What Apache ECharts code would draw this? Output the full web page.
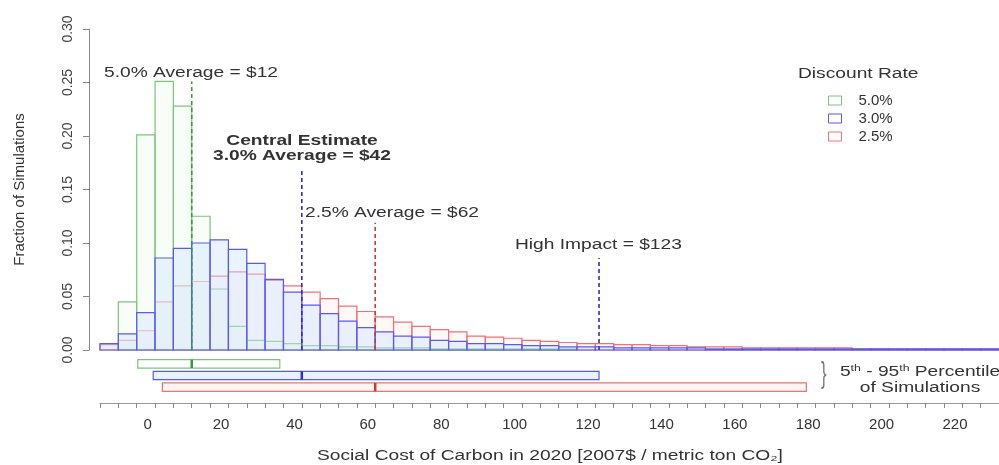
<!DOCTYPE html>
<html>
<head>
<meta charset="utf-8">
<script src="https://cdn.jsdelivr.net/npm/echarts@6/dist/echarts.min.js"></script>
<style>html,body{margin:0;padding:0;background:#fff}#c{width:999px;height:465px}</style>
</head>
<body>
<div id="c"></div>
<script>
// ---------- data ----------
const binStarts = [-13,-8,-3,2,7,12,17,22,27,32,37,42,47,52,57,62,67,72,77,82,87,92,97,102,107,112,117,122,127,132,137,142,147,152,157,162,167,172,177,182,187,192,197,202,207,212,217,222,227];
const binWidth = 5;
const share50 = [0.000,0.045,0.201,0.251,0.228,0.125,0.057,0.022,0.009,0.008,0.006,0.004,0.004,0.003,0.003,0.002,0.002,0.002,0.001,0.001,0.001,0.001,0.001,0.001,0.001,0.001,
  0,0,0,0,0,0,0,0,0,0,0,0,0,0,0,0,0,0,0,0,0,0,0];
const share30 = [0.006,0.015,0.035,0.086,0.095,0.100,0.103,0.094,0.081,0.066,0.054,0.042,0.034,0.027,0.021,0.017,0.013,0.012,0.009,0.008,0.006,0.006,0.005,0.004,0.004,0.003,0.003,0.003,0.002,0.002,0.002,0.002,0.002,0.001,
  0.001,0.001,0.001,0.001,0.001,0.001,0.001,0.001,0.001,0.001,0.001,0.001,0.001,0.001,0.001];
const share25 = [0.005,0.009,0.018,0.045,0.060,0.064,0.069,0.073,0.071,0.065,0.060,0.054,0.048,0.041,0.036,0.031,0.026,0.022,0.019,0.017,0.013,0.012,0.011,0.009,0.008,0.007,0.006,0.006,0.005,0.005,0.004,0.004,0.003,0.003,0.003,0.002,0.002,0.002,0.002,0.002,0.002,
  0.001,0.001,0.001,0.001,0.001,0.001,0.001,0.001];
const rateNames = ['5.0%','3.0%','2.5%'];
const averages = [12, 42, 62];
const averageLineTops = [0.251, 0.170, 0.119];
const highImpact = 123;
const highImpactTop = 0.086;
const pctLow = [-2.7, 1.5, 4.0];
const pctHigh = [36, 123, 179.5];
const xMin = -13, xMax = 232;
const xLabelValues = [0,20,40,60,80,100,120,140,160,180,200,220];
const xTickValues = [-13,-8,-3,2,7,12,17,22,27,32,37,42,47,52,57,62,67,72,77,82,87,92,97,102,107,112,117,122,127,132,137,142,147,152,157,162,167,172,177,182,187,192,197,202,207,212,217,222,227,232];
const yMin = 0, yMax = 0.30, yStep = 0.05;

// ---------- styles ----------
const edge = {'5.0%':'#7cc47c','3.0%':'#5a5aee','2.5%':'#f07272'};
const fill = {'5.0%':'rgba(235,250,235,0.35)','3.0%':'rgba(205,228,255,0.42)','2.5%':'rgba(255,236,236,0.35)'};
const meanCol = ['#3a9a3a','#2f2fd0','#e03030'];
const boxFill = ['#ffffff','#e9f3ff','#fff6f4'];
const FONT = '"Liberation Sans", Arial, sans-serif';
const SX = 1.37;

function histSeries(name, vals, z) {
  return {
    type: 'custom', name: name, xAxisIndex: 0, yAxisIndex: 0, z: z,
    itemStyle: {color: edge[name]},
    data: binStarts.map((b, i) => [b, vals[i]]),
    renderItem: function (params, api) {
      const x0 = api.value(0), h = api.value(1);
      if (!(h > 0)) return null;
      const p0 = api.coord([x0, h]);
      const p1 = api.coord([x0 + binWidth, 0]);
      return {type: 'rect', shape: {x: p0[0], y: p0[1], width: p1[0] - p0[0], height: p1[1] - p0[1]},
        style: {fill: fill[name], stroke: edge[name], lineWidth: 1.2}};
    }
  };
}
function vline(x, top, color, z) {
  return {type: 'line', xAxisIndex: 0, yAxisIndex: 0, z: z, silent: true, symbol: 'none',
    data: [[x, 0], [x, top]], lineStyle: {color: color, width: 1.6, type: [4, 3]}};
}
function txt(text, x, y, o) {
  o = o || {};
  return {type: 'text', x: x, y: y, scaleX: o.sx || SX, z: 100,
    style: {text: text, fill: o.color || '#333', font: (o.bold ? 'bold ' : '') + (o.size || 14) + 'px ' + FONT,
      align: o.align || 'left', verticalAlign: 'middle', rich: o.rich, lineHeight: o.lh}};
}

const option = {
  animation: false,
  backgroundColor: '#fff',
  grid: [
    {left: 100, right: 0, top: 29, height: 321},
    {left: 100, right: 0, top: 358, height: 35}
  ],
  xAxis: [
    {gridIndex: 0, type: 'value', min: xMin, max: xMax, show: false},
    {gridIndex: 1, type: 'value', min: xMin, max: xMax, offset: 10,
      axisLine: {show: true, onZero: false, lineStyle: {color: '#999'}},
      axisTick: {show: true, length: 5, lineStyle: {color: '#888'}, customValues: xTickValues},
      axisLabel: {customValues: xLabelValues, margin: 14, fontSize: 15, color: '#333', fontFamily: FONT},
      splitLine: {show: false}}
  ],
  yAxis: [
    {gridIndex: 0, type: 'value', min: yMin, max: yMax, interval: yStep, offset: 11,
      axisLine: {show: true, onZero: false, lineStyle: {color: '#888'}},
      axisTick: {show: true, length: 6, lineStyle: {color: '#888'}},
      axisLabel: {rotate: 90, margin: 14, fontSize: 14, color: '#444', fontFamily: FONT,
        formatter: v => v.toFixed(2)},
      splitLine: {show: false},
      name: 'Fraction of Simulations', nameLocation: 'middle', nameGap: 62, nameRotate: 90,
      nameTextStyle: {fontSize: 15, color: '#333', fontFamily: FONT}},
    {gridIndex: 1, type: 'category', data: rateNames, inverse: true, show: false}
  ],
  legend: {
    orient: 'vertical', left: 823, top: 88, itemWidth: 13, itemHeight: 9, itemGap: 3,
    textStyle: {fontSize: 15, color: '#333', fontFamily: FONT, padding: [0, 0, 0, 12]},
    data: rateNames.map(n => ({name: n, icon: 'rect', itemStyle: {color: '#fff', borderColor: edge[n], borderWidth: 1}}))
  },
  series: [
    histSeries('2.5%', share25, 2),
    histSeries('5.0%', share50, 3),
    histSeries('3.0%', share30, 4),
    vline(averages[0], averageLineTops[0], meanCol[0], 10),
    vline(averages[1], averageLineTops[1], meanCol[1], 10),
    vline(averages[2], averageLineTops[2], meanCol[2], 10),
    vline(highImpact, highImpactTop, meanCol[1], 10),
    {
      type: 'custom', xAxisIndex: 1, yAxisIndex: 1, z: 5, silent: true,
      data: rateNames.map((n, i) => [pctLow[i], pctHigh[i], i, averages[i]]),
      renderItem: function (params, api) {
        const i = api.value(2);
        const n = rateNames[i];
        const pL = api.coord([api.value(0), i]);
        const pH = api.coord([api.value(1), i]);
        const pM = api.coord([api.value(3), i]);
        const h = api.size([0, 1])[1] * 0.72;
        return {type: 'group', children: [
          {type: 'rect', shape: {x: pL[0], y: pL[1] - h / 2, width: pH[0] - pL[0], height: h},
            style: {fill: boxFill[i], stroke: edge[n], lineWidth: 1.2}},
          {type: 'line', shape: {x1: pM[0], y1: pM[1] - h / 2, x2: pM[0], y2: pM[1] + h / 2},
            style: {stroke: meanCol[i], lineWidth: 2.5}}
        ]};
      }
    }
  ],
  graphic: [
    txt('5.0% Average = $12', 104, 73),
    txt('Central Estimate', 302, 141, {bold: true, align: 'center'}),
    txt('3.0% Average = $42', 302, 156, {bold: true, align: 'center'}),
    txt('2.5% Average = $62', 305, 213),
    txt('High Impact = $123', 515, 245),
    txt('Discount Rate', 798, 74),
    txt('}', 821, 375, {size: 30, sx: 0.55, color: '#777'}),
    txt('5{s|th} - 95{s|th} Percentile\nof Simulations', 920, 380, {align: 'center', lh: 16,
      rich: {s: {fontSize: 9, verticalAlign: 'top', fontFamily: FONT, fill: '#333'}}}),
    txt('Social Cost of Carbon in 2020 [2007$ / metric ton CO\u2082]', 550, 456, {align: 'center', size: 14})
  ]
};
const chart = echarts.init(document.getElementById('c'), null, {renderer: 'canvas'});
chart.setOption(option);
</script>
</body>
</html>
